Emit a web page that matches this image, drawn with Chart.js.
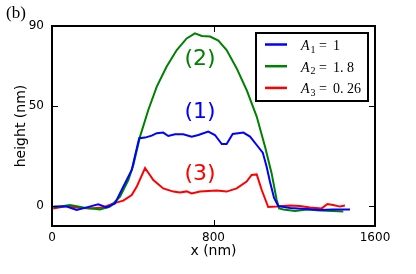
<!DOCTYPE html>
<html>
<head>
<meta charset="utf-8">
<script src="https://cdn.jsdelivr.net/npm/chart.js@4.4.0/dist/chart.umd.min.js"></script>
<style>
html, body { margin: 0; padding: 0; background: #fff; }
#wrap { width: 416px; height: 274px; }
</style>
</head>
<body>
<div id="wrap"><canvas id="profile"></canvas></div>
<script>
// profils de hauteur (x en nm, hauteur en nm)
const blueX = [8, 73, 122, 172, 229, 271, 312, 353, 395, 411, 432, 461, 494, 519, 551, 576, 609, 650, 692, 725, 774, 807, 841, 865, 895, 948, 981, 1014, 1044, 1063, 1080, 1100, 1121, 1180, 1262, 1328, 1392, 1476];
const blueY = [-0.3, -0.3, -2, -0.7, 0.8, -0.7, 1.3, 9.7, 18, 25, 33.9, 34.2, 35.2, 36.4, 36.7, 35, 35.9, 35.9, 34.7, 35.5, 37.2, 35.5, 31, 31, 36, 36.7, 34.7, 30.5, 26.7, 19.7, 12, 4, 0, -1, -1.5, -2, -1.7, -1.7];

const greenX = [6, 89, 155, 238, 287, 337, 378, 403, 436, 477, 519, 568, 618, 667, 708, 742, 783, 824, 865, 915, 964, 1014, 1055, 1088, 1113, 1125, 1146, 1204, 1262, 1328, 1393, 1443];
const greenY = [-0.7, 0.5, -0.7, -1.7, -0.3, 4.7, 13, 20.5, 34.7, 48, 59.7, 69.7, 78, 83.8, 86.3, 85, 84.7, 82.7, 78, 68.8, 58, 44.7, 29.7, 16.3, 3, -1.2, -1.7, -2.5, -1.7, -2.3, -2.5, -2.8];

const redX = [6, 73, 122, 188, 254, 304, 353, 395, 420, 461, 502, 551, 601, 634, 667, 692, 733, 774, 816, 865, 915, 964, 989, 1014, 1039, 1071, 1113, 1179, 1228, 1278, 1336, 1364, 1393, 1427, 1451];
const redY = [-1.2, 0, -0.7, -1.2, -0.7, 1.3, 2.7, 5.5, 9.7, 19, 13, 8.8, 7.2, 6.7, 7.3, 6.3, 7.2, 7.5, 7.7, 7.2, 8.8, 12.2, 15.5, 15.8, 8, -0.5, -0.3, 0.2, 0, -0.7, -1.2, 1, 0.5, -0.3, 0.2];

const xTicks = [0, 800, 1600];
const yTicks = [0, 50, 90];
const legendIdx = ['1', '2', '3'];
const legendVal = ['1', '1.8', '0.26'];
const tags = ['(1)', '(2)', '(3)'];
const tagX = [733, 733, 733];
const tagY = [47, 73.5, 16];

function pts(xs, ys) {
    return xs.map((x, i) => ({ x: x, y: ys[i] }));
}

const colors = ['#0000ff', '#008000', '#ff0000'];

const decor = {
    id: 'decor',
    afterDatasetsDraw(chart) {
        const c = chart.ctx;
        const a = chart.chartArea;
        const xs = chart.scales.x, ys = chart.scales.y;
        c.save();
        // cadre
        c.strokeStyle = '#000';
        c.lineWidth = 2;
        c.strokeRect(a.left, a.top, a.right - a.left, a.bottom - a.top);
        // graduations vers l'intérieur
        c.lineWidth = 1;
        c.beginPath();
        xTicks.forEach(v => {
            const px = Math.round(xs.getPixelForValue(v)) + 0.5;
            c.moveTo(px, a.bottom); c.lineTo(px, a.bottom - 6);
            c.moveTo(px, a.top); c.lineTo(px, a.top + 6);
        });
        yTicks.forEach(v => {
            const py = Math.round(ys.getPixelForValue(v)) + 0.5;
            c.moveTo(a.left, py); c.lineTo(a.left + 6, py);
            c.moveTo(a.right, py); c.lineTo(a.right - 6, py);
        });
        c.stroke();

        // étiquettes (1) (2) (3)
        c.font = '22px "DejaVu Sans"';
        c.textAlign = 'center';
        c.textBaseline = 'middle';
        [0, 1, 2].forEach(i => {
            c.fillStyle = colors[i];
            c.fillText(tags[i], xs.getPixelForValue(tagX[i]), ys.getPixelForValue(tagY[i]));
        });

        // légende
        c.fillStyle = '#fff';
        c.fillRect(256, 33, 112, 68);
        c.strokeStyle = '#000';
        c.lineWidth = 2;
        c.strokeRect(256, 33, 112, 68);
        c.textAlign = 'left';
        c.textBaseline = 'alphabetic';
        for (let i = 0; i < 3; i++) {
            const y = 44.5 + i * 21.7;
            c.strokeStyle = colors[i];
            c.lineWidth = 2.5;
            c.beginPath();
            c.moveTo(265, y); c.lineTo(287, y);
            c.stroke();
            c.fillStyle = '#000';
            c.font = 'italic 14px "Liberation Serif"';
            c.fillText('A', 301, y + 5.5);
            c.font = '10px "Liberation Serif"';
            c.fillText(legendIdx[i], 310.5, y + 8);
            c.font = '14px "Liberation Serif"';
            c.fillText('=', 319, y + 5.5);
            c.fillText(legendVal[i].replace('.', '. '), 333, y + 5.5);
        }

        // (b)
        c.fillStyle = '#000';
        c.font = '17px "Liberation Serif"';
        c.fillText('(b)', 6, 18);
        c.restore();
    }
};

const ctx = document.getElementById('profile').getContext('2d');

const profileChart = new Chart(ctx, {
    type: 'line',
    data: {
        datasets: [
            { label: 'A1 = 1', data: pts(blueX, blueY), borderColor: colors[0] },
            { label: 'A2 = 1.8', data: pts(greenX, greenY), borderColor: colors[1] },
            { label: 'A3 = 0.26', data: pts(redX, redY), borderColor: colors[2] }
        ]
    },
    options: {
        responsive: true,
        maintainAspectRatio: false,
        animation: false,
        layout: { padding: { left: 0, right: 41, top: 26, bottom: 0 } },
        elements: {
            point: { radius: 0 },
            line: { borderWidth: 2, tension: 0, fill: false }
        },
        plugins: { legend: { display: false }, tooltip: { enabled: false } },
        scales: {
            x: {
                type: 'linear', min: 0, max: 1600,
                grid: { display: false, drawTicks: false },
                border: { display: false },
                afterBuildTicks: s => { s.ticks = xTicks.map(v => ({ value: v })); },
                afterFit: s => { s.height = 48; },
                ticks: { color: '#000', padding: 5, autoSkip: false, source: 'data', maxRotation: 0,
                         callback: v => String(v),
                         font: { family: 'DejaVu Sans', size: 12 } },
                title: { display: true, text: 'x (nm)', color: '#000',
                         font: { family: 'DejaVu Sans', size: 14 }, padding: { top: 0, bottom: 14 } }
            },
            y: {
                type: 'linear', min: -10, max: 90,
                grid: { display: false, drawTicks: false },
                border: { display: false },
                afterBuildTicks: s => { s.ticks = yTicks.map(v => ({ value: v })); },
                afterFit: s => { s.width = 52; },
                ticks: { color: '#000', padding: 8, autoSkip: false, source: 'data',
                         callback: v => String(v),
                         font: { family: 'DejaVu Sans', size: 12 } },
                title: { display: true, text: 'height (nm)', color: '#000',
                         font: { family: 'DejaVu Sans', size: 14 }, padding: { top: 13, bottom: 0 } }
            }
        }
    },
    plugins: [decor]
});
</script>
</body>
</html>
